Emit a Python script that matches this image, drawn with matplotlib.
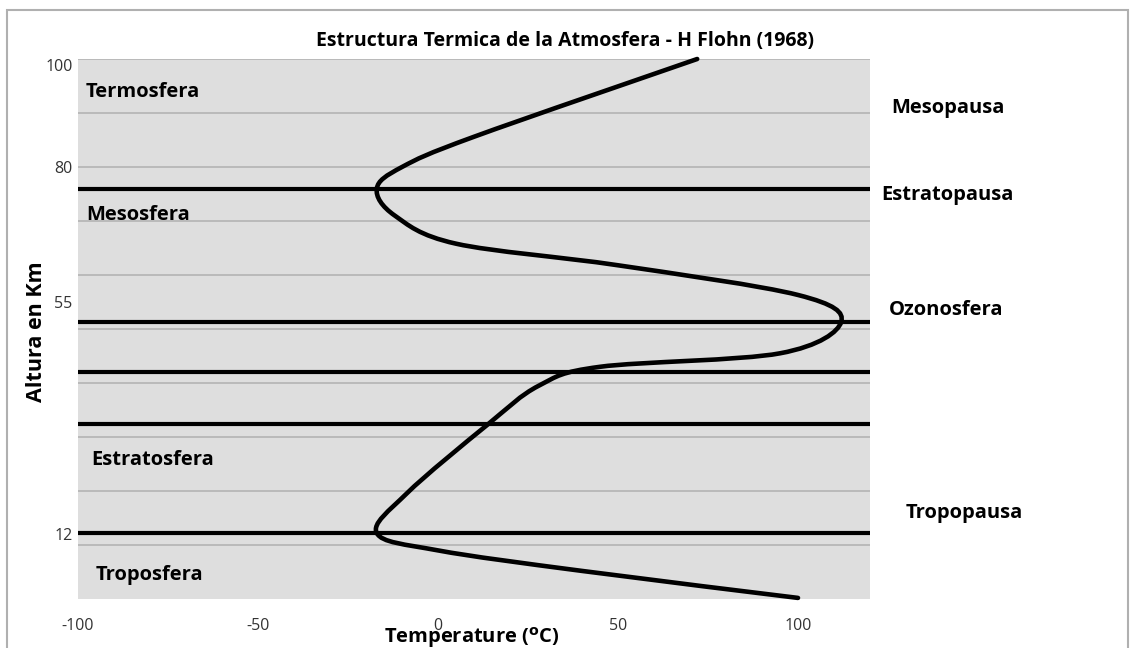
import matplotlib
matplotlib.use('Agg')
from matplotlib import pyplot as plt
from matplotlib.patches import Rectangle, PathPatch
from matplotlib.path import Path

plt.rcParams['font.family'] = ['Open Sans', 'DejaVu Sans']
plt.rcParams['axes.unicode_minus'] = False

# temperature profile (deg C, km)
temperature = [100, 40, 0, -17, -8.6, 13.6, 28, 45, 95, 112,
               100, 50, 5, -12, -17, -10, 10, 72]
altitude = [0.2, 5.2, 9.0, 12.2, 19.6, 32.2, 39.5, 43.0, 45.5, 51.3,
            56.3, 61.8, 65.8, 71.0, 76.0, 80.0, 85.6, 100.0]

boundary_heights = [76, 51.3, 42, 32.4, 12.2]

y_ticks = [12, 55, 80, 100]
x_ticks = [-100, -50, 0, 50, 100]

layer_names = ['Termosfera', 'Mesosfera', 'Estratosfera', 'Troposfera']
layer_x = [-97.8, -97.8, -96.4, -95]
layer_y = [93.9, 71.1, 25.7, 4.4]

pause_names = ['Mesopausa', 'Estratopausa', 'Ozonosfera', 'Tropopausa']
pause_x = [125.9, 123.1, 125.3, 129.8]
pause_y = [90.9, 74.8, 53.5, 15.9]


def smooth_path(xs, ys):
    # bezier through the points, like a smoothed line in a spreadsheet
    pts = list(zip(xs, ys))
    n = len(pts)
    verts = [pts[0]]
    codes = [Path.MOVETO]
    for i in range(n - 1):
        p0 = pts[max(i - 1, 0)]
        p1 = pts[i]
        p2 = pts[i + 1]
        p3 = pts[min(i + 2, n - 1)]
        c1 = (p1[0] + (p2[0] - p0[0]) / 6, p1[1] + (p2[1] - p0[1]) / 6)
        c2 = (p2[0] - (p3[0] - p1[0]) / 6, p2[1] - (p3[1] - p1[1]) / 6)
        verts += [c1, c2, p2]
        codes += [Path.CURVE4] * 3
    return Path(verts, codes)


W, H = 1130, 648
fig = plt.figure(figsize=(W / 100, H / 100), dpi=100)
ax = fig.add_axes([78 / W, 1 - 599 / H, (870 - 78) / W, (599 - 59) / H])
ax.set_facecolor('#dedede')

for g in range(10, 101, 10):
    ax.axhline(g, color='#b3b3b3', lw=1.2, zorder=1)

for h in boundary_heights:
    ax.plot([-100, 120], [h, h], color='black', lw=3.0, zorder=3,
            solid_capstyle='butt', clip_on=False)

curve = PathPatch(smooth_path(temperature, altitude), fill=False,
                  edgecolor='black', lw=3.3, zorder=4, capstyle='round',
                  joinstyle='round', clip_on=False)
ax.add_patch(curve)

ax.set_xlim(-100, 120)
ax.set_ylim(0, 100)
ax.set_xticks(x_ticks)
ax.set_yticks(y_ticks)
ax.tick_params(length=0, labelsize=11.5, labelcolor='#333333')
ax.tick_params(axis='x', pad=14)
ax.tick_params(axis='y', pad=4)
for lab in ax.get_yticklabels():
    if lab.get_text() == '100':
        lab.set_verticalalignment('top')
for s in ax.spines.values():
    s.set_visible(False)

for name, x, y in zip(layer_names, layer_x, layer_y):
    ax.text(x, y, name, fontsize=14.5, fontweight='bold', ha='left',
            va='center', zorder=5)
for name, x, y in zip(pause_names, pause_x, pause_y):
    ax.text(x, y, name, fontsize=14.5, fontweight='bold', ha='left',
            va='center', clip_on=False)

fig.text(0.5, 1 - 41 / H, 'Estructura Termica de la Atmosfera - H Flohn (1968)',
         ha='center', va='center', fontsize=14, fontweight='bold')
fig.text(472 / W, 1 - 637 / H, r'Temperature ($^{\mathbf{o}}$C)', ha='center',
         va='center', fontsize=14.5, fontweight='bold')
fig.text(36 / W, 1 - 332 / H, 'Altura en Km', ha='center', va='center',
         rotation=90, fontsize=15.5, fontweight='bold')

fig.patches.append(Rectangle((7 / W, -0.2), (1128 - 7) / W, 1.2 - 10 / H,
                             transform=fig.transFigure, fill=False,
                             edgecolor='#b0b0b0', lw=1.5))

fig.savefig('out.png', dpi=100)
